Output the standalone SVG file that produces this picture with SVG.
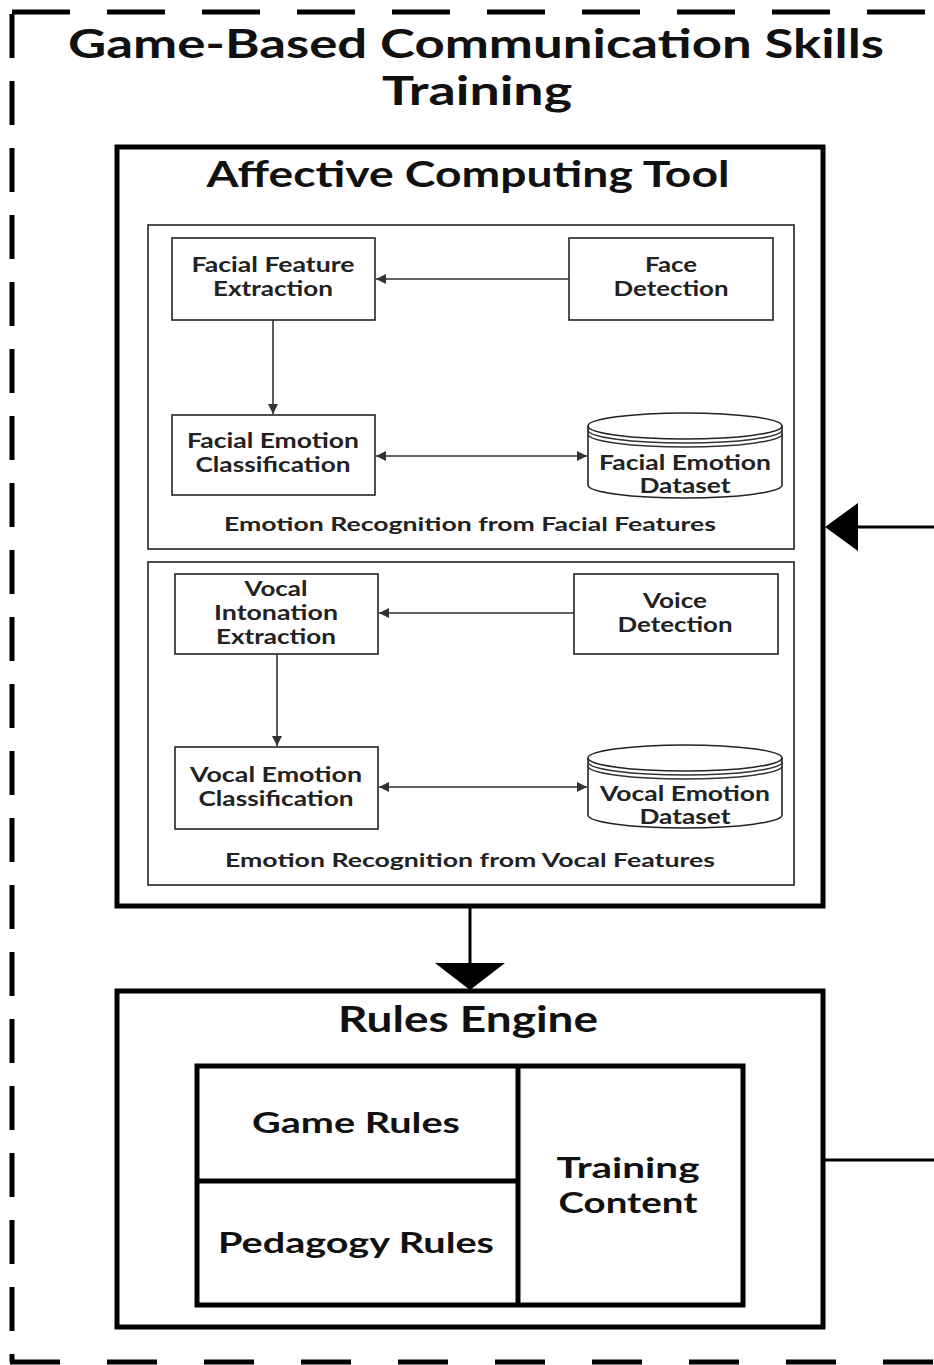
<svg xmlns="http://www.w3.org/2000/svg" width="934" height="1365" viewBox="0 0 934 1365">
<style>
text{font-family:Lato,"Open Sans","Liberation Sans",sans-serif;font-weight:700;fill:#111;text-anchor:middle}
.big{font-size:40px}
.hd{font-size:36px}
.lbl{font-size:20px;fill:#222}
.sec{font-size:18px;fill:#222}
.rl{font-size:29px}
.thick{fill:none;stroke:#000;stroke-width:5}
.thin{fill:#fff;stroke:#222;stroke-width:1.6}
.con{fill:none;stroke:#333;stroke-width:1.6}
</style>
<defs>
<marker id="ah" viewBox="0 0 10 10" refX="10" refY="5" markerWidth="10" markerHeight="10" markerUnits="userSpaceOnUse" orient="auto-start-reverse"><path d="M0,0 L10,5 L0,10 Z" fill="#333"/></marker>
</defs>
<rect width="934" height="1365" fill="#fff"/>
<g id="frame">
<line x1="12" y1="12" x2="934" y2="12" stroke="#000" stroke-width="5" stroke-dasharray="58 37"/>
<line x1="12" y1="14" x2="12" y2="1362" stroke="#000" stroke-width="5" stroke-dasharray="44 23"/>
<line x1="10" y1="1362" x2="934" y2="1362" stroke="#000" stroke-width="5" stroke-dasharray="50 47"/>
<text class="big" x="476" y="58" textLength="816" lengthAdjust="spacingAndGlyphs">Game-Based Communication Skills</text>
<text class="big" x="477" y="105" textLength="190" lengthAdjust="spacingAndGlyphs">Training</text>
</g>
<g id="affective">
<rect class="thick" x="117" y="147" width="706" height="759"/>
<text class="hd" x="468" y="187" textLength="523" lengthAdjust="spacingAndGlyphs">Affective Computing Tool</text>
</g>
<g id="facial-section">
<rect class="thin" x="148" y="225" width="646" height="324"/>
<text class="sec" x="470" y="531" textLength="492" lengthAdjust="spacingAndGlyphs">Emotion Recognition from Facial Features</text>
</g>
<g id="ffe">
<rect class="thin" x="172" y="238" width="203" height="82"/>
<text class="lbl" x="273" y="272" textLength="163" lengthAdjust="spacingAndGlyphs">Facial Feature</text>
<text class="lbl" x="273" y="296" textLength="120" lengthAdjust="spacingAndGlyphs">Extraction</text>
</g>
<g id="face-detection">
<rect class="thin" x="569" y="238" width="204" height="82"/>
<text class="lbl" x="671" y="272" textLength="52" lengthAdjust="spacingAndGlyphs">Face</text>
<text class="lbl" x="671" y="296" textLength="115" lengthAdjust="spacingAndGlyphs">Detection</text>
</g>
<g id="fec">
<rect class="thin" x="172" y="415" width="203" height="80"/>
<text class="lbl" x="273" y="448" textLength="172" lengthAdjust="spacingAndGlyphs">Facial Emotion</text>
<text class="lbl" x="273" y="472" textLength="155" lengthAdjust="spacingAndGlyphs">Classification</text>
</g>
<g id="facial-dataset">
<path class="thin" d="M588,426 L588,485 A97,13 0 0,0 782,485 L782,426"/>
<ellipse class="thin" cx="685" cy="426" rx="97" ry="13"/>
<path class="con" d="M588,430 A97,13 0 0,0 782,430 M588,434 A97,13 0 0,0 782,434"/>
<text class="lbl" x="685" y="470" textLength="172" lengthAdjust="spacingAndGlyphs">Facial Emotion</text>
<text class="lbl" x="685" y="493" textLength="91" lengthAdjust="spacingAndGlyphs">Dataset</text>
</g>
<g id="vocal-section">
<rect class="thin" x="148" y="562" width="646" height="323"/>
<text class="sec" x="470" y="867" textLength="490" lengthAdjust="spacingAndGlyphs">Emotion Recognition from Vocal Features</text>
</g>
<g id="vie">
<rect class="thin" x="175" y="574" width="203" height="80"/>
<text class="lbl" x="276" y="596" textLength="63" lengthAdjust="spacingAndGlyphs">Vocal</text>
<text class="lbl" x="276" y="620" textLength="124" lengthAdjust="spacingAndGlyphs">Intonation</text>
<text class="lbl" x="276" y="644" textLength="120" lengthAdjust="spacingAndGlyphs">Extraction</text>
</g>
<g id="voice-detection">
<rect class="thin" x="574" y="574" width="204" height="80"/>
<text class="lbl" x="675" y="608" textLength="64" lengthAdjust="spacingAndGlyphs">Voice</text>
<text class="lbl" x="675" y="632" textLength="115" lengthAdjust="spacingAndGlyphs">Detection</text>
</g>
<g id="vec">
<rect class="thin" x="175" y="747" width="203" height="82"/>
<text class="lbl" x="276" y="782" textLength="172" lengthAdjust="spacingAndGlyphs">Vocal Emotion</text>
<text class="lbl" x="276" y="806" textLength="155" lengthAdjust="spacingAndGlyphs">Classification</text>
</g>
<g id="vocal-dataset">
<path class="thin" d="M588,758 L588,815 A97,13 0 0,0 782,815 L782,758"/>
<ellipse class="thin" cx="685" cy="758" rx="97" ry="13"/>
<path class="con" d="M588,762 A97,13 0 0,0 782,762 M588,766 A97,13 0 0,0 782,766"/>
<text class="lbl" x="685" y="801" textLength="170" lengthAdjust="spacingAndGlyphs">Vocal Emotion</text>
<text class="lbl" x="685" y="824" textLength="91" lengthAdjust="spacingAndGlyphs">Dataset</text>
</g>
<g id="rules-engine">
<rect class="thick" x="117" y="991" width="706" height="336"/>
<text class="hd" x="468" y="1032" textLength="260" lengthAdjust="spacingAndGlyphs">Rules Engine</text>
</g>
<g id="rules-grid">
<rect class="thick" x="197" y="1066" width="546" height="239"/>
<line x1="518" y1="1066" x2="518" y2="1305" stroke="#000" stroke-width="5"/>
<line x1="197" y1="1181" x2="518" y2="1181" stroke="#000" stroke-width="5"/>
</g>
<g id="game-rules"><text class="rl" x="356" y="1133" textLength="208" lengthAdjust="spacingAndGlyphs">Game Rules</text></g>
<g id="pedagogy-rules"><text class="rl" x="356" y="1253" textLength="276" lengthAdjust="spacingAndGlyphs">Pedagogy Rules</text></g>
<g id="training-content">
<text class="rl" x="628" y="1178" textLength="143" lengthAdjust="spacingAndGlyphs">Training</text>
<text class="rl" x="628" y="1213" textLength="139" lengthAdjust="spacingAndGlyphs">Content</text>
</g>
<g id="connectors">
<line class="con" x1="569" y1="279" x2="376" y2="279" marker-end="url(#ah)"/>
<line class="con" x1="273" y1="320" x2="273" y2="414" marker-end="url(#ah)"/>
<line class="con" x1="376" y1="456" x2="587" y2="456" marker-start="url(#ah)" marker-end="url(#ah)"/>
<line class="con" x1="574" y1="613" x2="379" y2="613" marker-end="url(#ah)"/>
<line class="con" x1="277" y1="654" x2="277" y2="746" marker-end="url(#ah)"/>
<line class="con" x1="379" y1="787" x2="587" y2="787" marker-start="url(#ah)" marker-end="url(#ah)"/>
<line x1="470" y1="906" x2="470" y2="965" stroke="#000" stroke-width="3"/>
<path d="M435,963 L505,963 L470,990 Z" fill="#000"/>
<line x1="856" y1="527" x2="934" y2="527" stroke="#000" stroke-width="3"/>
<path d="M825,527 L858,503 L858,551 Z" fill="#000"/>
<line x1="823" y1="1160" x2="934" y2="1160" stroke="#000" stroke-width="3"/>
</g>
</svg>
